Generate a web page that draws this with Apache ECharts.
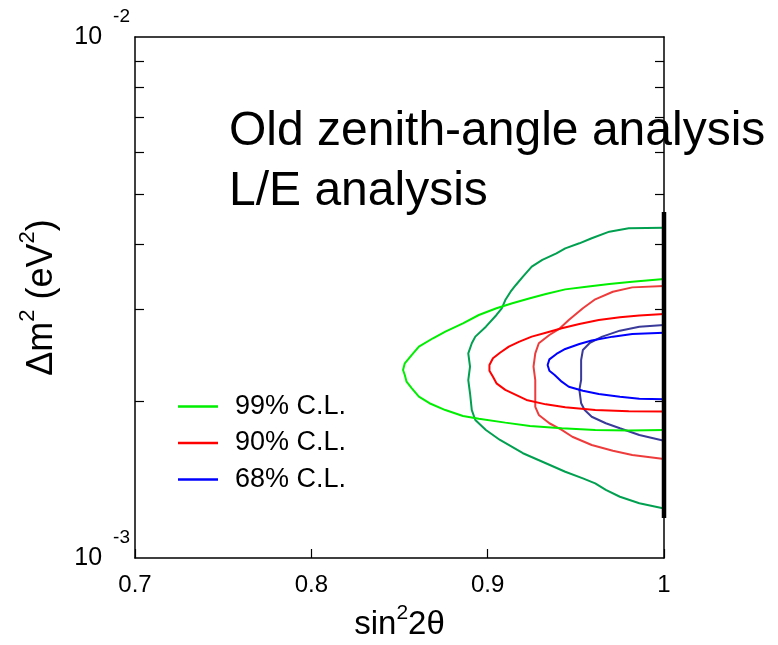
<!DOCTYPE html>
<html>
<head>
<meta charset="utf-8">
<script src="https://cdn.jsdelivr.net/npm/echarts@6/dist/echarts.min.js"></script>
<style>html,body{margin:0;padding:0;background:#fff;}#c{width:778px;height:645px;}</style>
</head>
<body>
<div id="c"></div>
<script>
// Δm² values are in units of 10^-3 eV²
var xTicks = [0.7, 0.8, 0.9, 1.0];
var yMinorTicks = [2, 3, 4, 5, 6, 7, 8, 9];

// Old zenith-angle analysis contours
var old99S  = [1.0, 0.980, 0.969, 0.959, 0.952, 0.944, 0.939, 0.931, 0.925, 0.920, 0.916, 0.913, 0.910, 0.908, 0.905, 0.899, 0.893, 0.891, 0.889, 0.890, 0.889, 0.890, 0.891, 0.893, 0.899, 0.907, 0.920, 0.933, 0.944, 0.954, 0.961, 0.967, 0.975, 0.986, 1.0];
var old99Dm = [4.305, 4.294, 4.230, 4.108, 4.018, 3.930, 3.844, 3.733, 3.624, 3.467, 3.342, 3.244, 3.127, 3.015, 2.927, 2.780, 2.660, 2.583, 2.471, 2.329, 2.196, 2.071, 1.923, 1.840, 1.761, 1.685, 1.589, 1.520, 1.464, 1.422, 1.391, 1.351, 1.311, 1.274, 1.245];
var old90S  = [1.0, 0.982, 0.971, 0.961, 0.954, 0.946, 0.941, 0.935, 0.929, 0.927, 0.926, 0.927, 0.927, 0.927, 0.929, 0.935, 0.942, 0.948, 0.959, 0.971, 0.982, 1.0];
var old90Dm = [3.327, 3.307, 3.244, 3.137, 3.015, 2.862, 2.760, 2.679, 2.583, 2.471, 2.329, 2.196, 2.071, 1.951, 1.882, 1.814, 1.761, 1.709, 1.648, 1.607, 1.577, 1.549];
var old68S  = [1.0, 0.986, 0.975, 0.965, 0.958, 0.954, 0.953, 0.953, 0.953, 0.952, 0.953, 0.955, 0.959, 0.967, 0.975, 0.986, 1.0];
var old68Dm = [2.801, 2.780, 2.731, 2.660, 2.589, 2.507, 2.399, 2.295, 2.196, 2.102, 1.982, 1.923, 1.867, 1.814, 1.774, 1.722, 1.679];

// L/E analysis contours
var le99S  = [1.0, 0.982, 0.969, 0.956, 0.944, 0.933, 0.924, 0.914, 0.905, 0.895, 0.886, 0.876, 0.869, 0.861, 0.857, 0.853, 0.852, 0.853, 0.854, 0.857, 0.861, 0.867, 0.876, 0.886, 0.895, 0.910, 0.924, 0.942, 0.961, 0.980, 1.0];
var le99Dm = [3.431, 3.390, 3.356, 3.316, 3.278, 3.211, 3.151, 3.082, 3.015, 2.927, 2.821, 2.719, 2.641, 2.545, 2.453, 2.364, 2.295, 2.245, 2.180, 2.117, 2.040, 1.982, 1.923, 1.873, 1.850, 1.819, 1.792, 1.774, 1.761, 1.756, 1.761];
var le90S  = [1.0, 0.986, 0.975, 0.963, 0.952, 0.942, 0.933, 0.925, 0.918, 0.912, 0.907, 0.903, 0.901, 0.901, 0.903, 0.905, 0.910, 0.916, 0.922, 0.933, 0.944, 0.961, 0.980, 1.0];
var le90Dm = [2.939, 2.922, 2.897, 2.862, 2.813, 2.760, 2.707, 2.660, 2.602, 2.545, 2.477, 2.417, 2.346, 2.288, 2.228, 2.164, 2.102, 2.056, 2.011, 1.972, 1.946, 1.923, 1.912, 1.910];
var le68S  = [1.0, 0.982, 0.971, 0.959, 0.952, 0.944, 0.939, 0.935, 0.934, 0.935, 0.938, 0.942, 0.946, 0.954, 0.963, 0.975, 0.986, 1.0];
var le68Dm = [2.707, 2.692, 2.660, 2.614, 2.575, 2.519, 2.464, 2.406, 2.346, 2.288, 2.245, 2.180, 2.132, 2.095, 2.064, 2.040, 2.022, 2.017];

// physical boundary bar at sin²2θ = 1
var edgeS = [1.0, 1.0];
var edgeDm = [1.193, 4.615];

var legendNames = ['99% C.L.', '90% C.L.', '68% C.L.'];

function pairs(s, dm) {
  return s.map(function (v, i) { return [v, dm[i] * 1e-3]; });
}

var FONT = '"Liberation Sans", Arial, Helvetica, sans-serif';
var chart = echarts.init(document.getElementById('c'), null, {renderer: 'canvas'});

function lineSeries(name, s, dm, color, z) {
  return {
    name: name, type: 'line', data: pairs(s, dm),
    showSymbol: false, symbol: 'none', smooth: false, z: z || 2,
    lineStyle: {color: color, width: 2}, itemStyle: {color: color},
    silent: true, clip: false
  };
}

var tickLine = {show: true, inside: true, length: 9, lineStyle: {color: '#000', width: 1.2}};

var option = {
  animation: false,
  backgroundColor: '#fff',
  grid: {left: 135, right: 114, top: 37, bottom: 87, show: false, containLabel: false, outerBoundsMode: 'none'},
  legend: {
    data: legendNames.map(function (n) { return {name: n, icon: 'rect'}; }),
    orient: 'vertical', left: 173, top: 388,
    itemWidth: 40, itemHeight: 2.5, itemGap: 9.5,
    textStyle: {fontFamily: FONT, fontSize: 27, color: '#000', padding: [0, 0, 0, 12]},
    selectedMode: false
  },
  xAxis: [{
    type: 'value', position: 'bottom', min: 0.7, max: 1.0, interval: 0.1,
    axisLine: {show: true, onZero: false, lineStyle: {color: '#000', width: 1.5}},
    axisTick: tickLine,
    splitLine: {show: false},
    axisLabel: {
      show: true, margin: 15, fontFamily: FONT, fontSize: 24, color: '#000',
      showMinLabel: true, showMaxLabel: true,
      formatter: function (v) { return String(Math.round(v * 10) / 10); }
    },
    name: '{a|sin}{s|2}{a|2θ}', nameLocation: 'middle', nameGap: 45,
    nameTextStyle: {
      rich: {
        a: {fontFamily: FONT, fontSize: 33, color: '#000', lineHeight: 44, verticalAlign: 'middle'},
        s: {fontFamily: FONT, fontSize: 21, color: '#000', lineHeight: 21, verticalAlign: 'top'}
      }
    }
  }, {
    type: 'value', position: 'top', min: 0.7, max: 1.0, interval: 0.1,
    axisLine: {show: true, onZero: false, lineStyle: {color: '#000', width: 1.5}},
    axisTick: {show: false}, axisLabel: {show: false}, splitLine: {show: false}
  }],
  yAxis: [{
    type: 'log', logBase: 10, position: 'left', min: 0.001, max: 0.01,
    axisLine: {show: true, onZero: false, lineStyle: {color: '#000', width: 1.5}},
    axisTick: {show: true, inside: true, length: 9, lineStyle: {color: '#000', width: 1.2},
      customValues: yMinorTicks.map(function (v) { return v * 1e-3; })},
    splitLine: {show: false},
    axisLabel: {
      show: true, margin: 5,
      formatter: function (v) { return '{b|10}{s|' + Math.round(Math.log10(v)) + '}'; },
      rich: {
        b: {fontFamily: FONT, fontSize: 25, color: '#000', lineHeight: 60, verticalAlign: 'middle'},
        s: {fontFamily: FONT, fontSize: 19, color: '#000', lineHeight: 19, verticalAlign: 'top', padding: [0, 0, 0, 11]}
      }
    },
    name: '{a|Δm}{s|2}{a| (eV}{s|2}{a|)}', nameLocation: 'middle', nameRotate: 90, nameGap: 68,
    nameTextStyle: {
      rich: {
        a: {fontFamily: FONT, fontSize: 36, color: '#000', lineHeight: 50, verticalAlign: 'middle'},
        s: {fontFamily: FONT, fontSize: 22, color: '#000', lineHeight: 22, verticalAlign: 'top'}
      }
    }
  }, {
    type: 'log', logBase: 10, position: 'right', min: 0.001, max: 0.01,
    axisLine: {show: true, onZero: false, lineStyle: {color: '#000', width: 1.5}},
    axisTick: {show: true, inside: true, length: 9, lineStyle: {color: '#000', width: 1.2},
      customValues: yMinorTicks.map(function (v) { return v * 1e-3; })},
    axisLabel: {show: false}, splitLine: {show: false}
  }],
  graphic: [{
    type: 'text', left: 229, top: 102, z: 0, silent: true,
    style: {
      text: 'Old zenith-angle analysis\nL/E analysis',
      font: '48px ' + FONT, lineHeight: 60, fill: '#000'
    }
  }],
  series: [
    lineSeries('old99', old99S, old99Dm, '#00a050'),
    lineSeries('old90', old90S, old90Dm, '#ee3c3c'),
    lineSeries('old68', old68S, old68Dm, '#3a3a9a'),
    lineSeries(legendNames[0], le99S, le99Dm, '#00ee00'),
    lineSeries(legendNames[1], le90S, le90Dm, '#ff0000'),
    lineSeries(legendNames[2], le68S, le68Dm, '#0000ff'),
    {
      name: 'edge', type: 'line', data: pairs(edgeS, edgeDm), showSymbol: false, symbol: 'none',
      lineStyle: {color: '#000', width: 4.5}, z: 5, silent: true, clip: false
    }
  ]
};
chart.setOption(option);
</script>
</body>
</html>
